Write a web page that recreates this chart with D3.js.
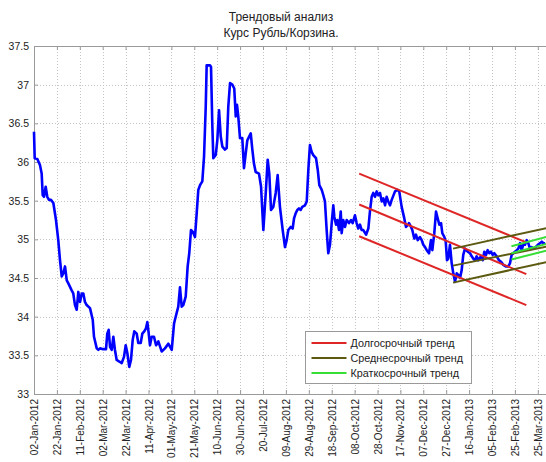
<!DOCTYPE html>
<html>
<head>
<meta charset="utf-8">
<script src="https://cdn.jsdelivr.net/npm/d3@7"></script>
<style>
  body { margin: 0; background: #fff; }
  text { font-family: "Liberation Sans", Arial, sans-serif; fill: #222; }
</style>
</head>
<body>
<script>
// title lines
const titleLines = ['Трендовый анализ', 'Курс Рубль/Корзина.']

// x tick labels, one every 20 days starting at day 0
const tickLabels = ['02-Jan-2012', '22-Jan-2012', '11-Feb-2012', '02-Mar-2012', '22-Mar-2012',
  '11-Apr-2012', '01-May-2012', '21-May-2012', '10-Jun-2012', '30-Jun-2012', '20-Jul-2012',
  '09-Aug-2012', '29-Aug-2012', '18-Sep-2012', '08-Oct-2012', '28-Oct-2012', '17-Nov-2012',
  '07-Dec-2012', '27-Dec-2012', '16-Jan-2013', '05-Feb-2013', '25-Feb-2013', '25-Mar-2013']
const yTicks = [33, 33.5, 34, 34.5, 35, 35.5, 36, 36.5, 37, 37.5]

// rate: [day, value]
const rate = [
  [0, 36.39], [0.6, 36.05], [2.9, 36.04], [5.2, 35.96], [6.7, 35.85], [7.6, 35.57], [8.7, 35.55],
  [10.2, 35.68], [11.6, 35.55], [13.1, 35.51], [14.8, 35.51], [16.9, 35.47], [19.2, 35.25],
  [21.2, 34.99], [22.7, 34.73], [24.2, 34.52], [25.6, 34.56], [27.1, 34.65], [28.6, 34.47],
  [30.0, 34.43], [32.9, 34.34], [34.3, 34.30], [35.8, 34.15], [37.3, 34.09], [38.7, 34.32],
  [40.2, 34.19], [41.7, 34.30], [43.1, 34.30], [44.5, 34.19], [46.0, 34.15], [48.9, 34.11],
  [51.3, 33.96], [52.4, 33.74], [54.8, 33.59], [56.2, 33.57], [57.6, 33.59], [60.5, 33.58],
  [62.9, 33.58], [64.0, 33.78], [65.2, 33.83], [66.4, 33.61], [67.9, 33.57], [69.3, 33.74],
  [70.7, 33.57], [72.2, 33.44], [74.5, 33.42], [76.6, 33.40], [78.6, 33.48], [80.1, 33.63],
  [81.5, 33.53], [83.2, 33.35], [84.7, 33.44], [86.2, 33.70], [87.6, 33.81], [89.7, 33.78],
  [91.1, 33.66], [93.2, 33.66], [94.6, 33.78], [96.3, 33.81], [97.8, 33.85], [99.0, 33.93],
  [100.2, 33.78], [101.3, 33.63], [102.8, 33.74], [104.8, 33.74], [106.6, 33.63], [108.6, 33.68],
  [111.5, 33.55], [114.4, 33.59], [117.3, 33.65], [120.3, 33.57], [122.3, 33.91], [123.1, 33.96],
  [126.0, 34.13], [127.5, 34.38], [129.0, 34.13], [130.4, 34.15], [132.5, 34.26], [134.2, 34.65],
  [135.6, 34.82], [137.1, 35.12], [138.6, 35.10], [140.6, 35.03], [142.1, 35.34], [143.5, 35.64],
  [145.0, 35.70], [147.0, 35.75], [148.5, 36.07], [150.0, 36.72], [150.8, 37.25], [153.7, 37.25],
  [154.6, 37.23], [155.7, 36.50], [156.6, 36.05], [158.7, 36.09], [160.1, 36.28], [161.6, 36.67],
  [163.1, 36.33], [164.5, 36.20], [166.8, 36.16], [168.3, 36.18], [169.7, 36.72], [171.2, 37.02],
  [173.2, 37.00], [174.9, 36.95], [176.2, 36.59], [177.3, 36.74], [178.4, 36.59], [179.9, 36.31],
  [181.9, 36.31], [183.4, 35.92], [184.9, 36.11], [186.3, 36.28], [189.3, 36.37], [190.7, 36.16],
  [192.1, 35.98], [193.6, 35.87], [196.5, 35.85], [198.3, 35.68], [200.3, 35.12], [202.4, 35.60],
  [204.1, 36.03], [205.5, 35.85], [207.0, 35.38], [209.0, 35.42], [211.1, 35.60], [212.8, 35.83],
  [214.8, 35.42], [217.2, 35.12], [219.2, 34.90], [220.7, 34.99], [222.1, 35.12], [224.2, 35.16],
  [225.9, 35.14], [227.1, 35.27], [228.6, 35.34], [230.0, 35.38], [231.4, 35.40], [232.9, 35.38],
  [234.3, 35.42], [236.7, 35.44], [238.2, 35.49], [239.6, 35.90], [241.0, 36.22], [242.5, 36.13],
  [243.9, 36.09], [246.3, 36.05], [247.8, 35.90], [249.2, 35.70], [251.3, 35.64], [252.7, 35.57],
  [254.1, 35.49], [255.6, 35.12], [257.0, 34.82], [258.5, 34.93], [260.0, 35.21], [261.4, 35.44],
  [262.3, 35.29], [263.8, 35.19], [264.9, 35.25], [266.4, 35.12], [267.9, 35.36], [268.7, 35.08],
  [270.1, 35.25], [271.6, 35.16], [273.1, 35.25], [275.1, 35.21], [276.9, 35.25], [278.3, 35.21],
  [280.3, 35.31], [281.8, 35.21], [283.2, 35.14], [284.7, 35.19], [286.2, 35.12], [287.6, 35.12],
  [290.0, 35.06], [292.0, 35.14], [293.4, 35.36], [294.9, 35.55], [296.3, 35.60], [297.8, 35.55],
  [299.3, 35.62], [300.7, 35.57], [302.2, 35.60], [303.7, 35.49], [305.1, 35.53], [306.6, 35.44],
  [308.0, 35.55], [309.4, 35.49], [310.9, 35.44], [312.4, 35.51], [315.3, 35.62], [317.3, 35.64],
  [319.0, 35.62], [321.1, 35.42], [323.1, 35.29], [324.9, 35.16], [326.9, 35.19], [327.5, 35.21],
  [329.3, 35.16], [330.4, 35.12], [332.1, 35.01], [333.6, 35.06], [335.1, 34.99], [337.1, 35.03],
  [338.6, 34.99], [340.0, 34.93], [341.5, 34.90], [343.0, 34.86], [345.0, 34.82], [346.7, 34.99],
  [347.9, 34.86], [349.6, 35.08], [351.1, 35.36], [352.6, 35.27], [354.0, 35.19], [355.5, 35.21],
  [356.6, 35.08], [358.4, 35.03], [359.6, 34.97], [360.7, 34.73], [361.8, 34.75], [363.3, 34.93],
  [364.8, 34.69], [366.2, 34.56], [367.7, 34.45], [369.2, 34.56], [370.6, 34.54], [372.1, 34.50],
  [373.5, 34.60], [374.9, 34.80], [376.4, 34.88], [378.8, 34.84], [380.8, 34.82], [382.3, 34.78],
  [383.7, 34.75], [385.2, 34.73], [386.6, 34.78], [388.0, 34.73], [390.4, 34.78], [391.9, 34.73],
  [393.3, 34.84], [394.8, 34.80], [396.2, 34.86], [397.6, 34.82], [399.1, 34.84], [400.6, 34.80],
  [402.0, 34.82], [404.1, 34.78], [406.1, 34.73], [407.9, 34.71], [409.9, 34.67], [412.0, 34.65],
  [414.2, 34.65], [415.7, 34.69], [417.2, 34.80], [418.6, 34.82], [420.1, 34.84], [421.6, 34.86],
  [423.0, 34.88], [424.5, 34.95], [425.9, 34.86], [427.3, 34.93], [428.8, 34.93], [430.3, 34.99],
  [431.7, 34.95], [433.2, 34.88], [434.7, 34.90], [436.1, 34.88], [438.2, 34.90], [440.0, 34.93],
  [442.0, 34.95], [443.5, 34.97], [444.9, 34.95], [446.4, 34.95]
]

// trend channels: [startDay, endDay, [startValue, endValue] for each of three lines]
const longTrend = { from: 284, to: 430, lines: [[35.85, 34.96], [35.45, 34.55], [35.04, 34.15]] }
const midTrend = { from: 366, to: 452, lines: [[34.88, 35.16], [34.66, 34.92], [34.44, 34.72]] }
const shortTrend = { from: 417, to: 452, lines: [[34.91, 35.05], [34.82, 34.96], [34.74, 34.87]] }

const legendNames = ['Долгосрочный тренд', 'Среднесрочный тренд', 'Краткосрочный тренд']
const trendColors = ['#de2626', '#5c5a10', '#36de36']

const W = 546, H = 462
const margin = { top: 46, left: 34, bottom: 68 }
const plotH = H - margin.top - margin.bottom

const x = d3.scaleLinear().domain([0, 452]).range([margin.left, margin.left + 452 * 1.145])
const y = d3.scaleLinear().domain([33, 37.5]).range([margin.top + plotH, margin.top])
const xTicks = tickLabels.map((_, i) => i * 20)

const svg = d3.select('body').append('svg')
  .attr('width', W).attr('height', H)

// title
svg.selectAll('.title').data(titleLines).enter().append('text')
  .attr('class', 'title')
  .attr('x', 281).attr('y', (d, i) => 21 + i * 16)
  .attr('text-anchor', 'middle')
  .style('font-size', '12px')
  .text(d => d)

// grid
const grid = svg.append('g').attr('stroke', '#c4c4c4').attr('stroke-dasharray', '1,2').attr('stroke-width', 1)
grid.selectAll('.vg').data(xTicks.slice(1)).enter().append('line')
  .attr('x1', d => Math.round(x(d)) + 0.5).attr('x2', d => Math.round(x(d)) + 0.5)
  .attr('y1', y(37.5)).attr('y2', y(33))
grid.selectAll('.hg').data(yTicks.slice(1, -1)).enter().append('line')
  .attr('y1', d => Math.round(y(d)) + 0.5).attr('y2', d => Math.round(y(d)) + 0.5)
  .attr('x1', x(0)).attr('x2', W)

// axes
const bottomAxis = d3.axisBottom(x).tickValues(xTicks).tickFormat((d, i) => tickLabels[i])
  .tickSizeInner(-4).tickSizeOuter(0).tickPadding(6)
const gx = svg.append('g').attr('transform', `translate(0,${y(33)})`).call(bottomAxis)
gx.selectAll('text')
  .attr('transform', 'rotate(-90)')
  .attr('text-anchor', 'end')
  .attr('x', -5).attr('y', 0).attr('dy', '0.35em')
  .style('font-size', '10px')

const topAxis = d3.axisTop(x).tickValues(xTicks).tickFormat('').tickSizeInner(-4).tickSizeOuter(0)
svg.append('g').attr('transform', `translate(0,${y(37.5)})`).call(topAxis)

const leftAxis = d3.axisLeft(y).tickValues(yTicks).tickFormat(d3.format('')).tickSizeInner(-4).tickSizeOuter(0).tickPadding(5)
svg.append('g').attr('transform', `translate(${x(0)},0)`).call(leftAxis)
  .selectAll('text').style('font-size', '10.5px')

svg.selectAll('.domain, .tick line').attr('stroke', '#9a9a9a')

// series
const line = d3.line().x(d => x(d[0])).y(d => y(d[1]))
svg.append('path').datum(rate)
  .attr('fill', 'none').attr('stroke', '#0000ff').attr('stroke-width', 2.6)
  .attr('stroke-linejoin', 'round')
  .attr('d', line)

// trend channels
;[longTrend, midTrend, shortTrend].forEach((t, k) => {
  svg.append('g').selectAll('line').data(t.lines).enter().append('line')
    .attr('x1', x(t.from)).attr('x2', x(t.to))
    .attr('y1', d => y(d[0])).attr('y2', d => y(d[1]))
    .attr('stroke', trendColors[k]).attr('stroke-width', 2)
})

// legend
const lg = svg.append('g').attr('transform', 'translate(305.5,331.5)')
lg.append('rect').attr('width', 166).attr('height', 52)
  .attr('fill', '#fff').attr('stroke', '#9a9a9a')
const items = lg.selectAll('.item').data(legendNames).enter().append('g')
  .attr('transform', (d, i) => `translate(0,${11.5 + i * 15})`)
items.append('line').attr('x1', 6).attr('x2', 41)
  .attr('stroke', (d, i) => trendColors[i]).attr('stroke-width', 2)
items.append('text').attr('x', 45).attr('dy', '0.35em')
  .style('font-size', '10.8px').text(d => d)
</script>
</body>
</html>
